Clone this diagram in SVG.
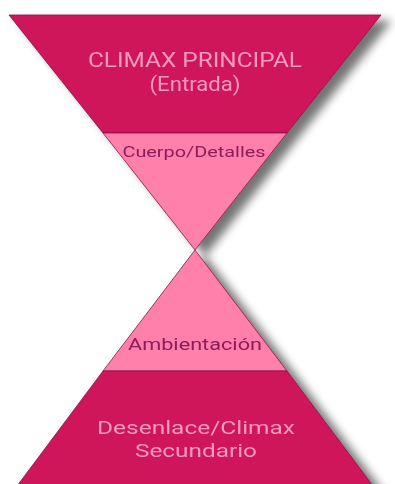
<svg xmlns="http://www.w3.org/2000/svg" width="395" height="484" viewBox="0 0 395 484">
  <defs>
    <filter id="sh" x="-10%" y="-10%" width="130%" height="130%">
      <feGaussianBlur in="SourceAlpha" stdDeviation="5"/>
      <feOffset dx="10" dy="6" result="b"/>
      <feComponentTransfer><feFuncA type="linear" slope="0.55"/></feComponentTransfer>
      <feMerge><feMergeNode/><feMergeNode in="SourceGraphic"/></feMerge>
    </filter>
  </defs>
  <style>
    .dark { fill: #D0145A; stroke: #8A1046; stroke-width: 0.8; }
    .pink { fill: #FF80AB; stroke: #8A1046; stroke-width: 0.8; }
    .tl { font-family: Roboto, "Liberation Sans", sans-serif; fill: #F59ABF; text-anchor: middle; }
    .td { font-family: Roboto, "Liberation Sans", sans-serif; fill: #8E1A5C; text-anchor: middle; }
  </style>
  <rect width="395" height="484" fill="#FFFFFF"/>
  <g filter="url(#sh)">
    <g id="climax-principal">
      <polygon class="dark" points="9,15 381,15 287,133 103,133"/>
      <text class="tl" x="195" y="67" font-size="20" textLength="214" lengthAdjust="spacingAndGlyphs">CLIMAX PRINCIPAL</text>
      <text class="tl" x="195" y="91" font-size="20" textLength="91" lengthAdjust="spacingAndGlyphs">(Entrada)</text>
    </g>
    <g id="cuerpo">
      <polygon class="pink" points="103,133 287,133 195,250"/>
      <text class="td" x="194" y="157" font-size="14.5" textLength="143" lengthAdjust="spacingAndGlyphs">Cuerpo/Detalles</text>
    </g>
    <g id="ambientacion">
      <polygon class="pink" points="195,250 287,371 103,371"/>
      <text class="td" x="195" y="350" font-size="17" textLength="134" lengthAdjust="spacingAndGlyphs">Ambientación</text>
    </g>
    <g id="desenlace">
      <polygon class="dark" points="103,371 287,371 376,490 14,490"/>
      <text class="tl" x="196" y="434" font-size="18.5" textLength="198" lengthAdjust="spacingAndGlyphs">Desenlace/Climax</text>
      <text class="tl" x="196" y="457" font-size="18.5" textLength="122" lengthAdjust="spacingAndGlyphs">Secundario</text>
    </g>
  </g>
  <g id="connectors"/>
</svg>
